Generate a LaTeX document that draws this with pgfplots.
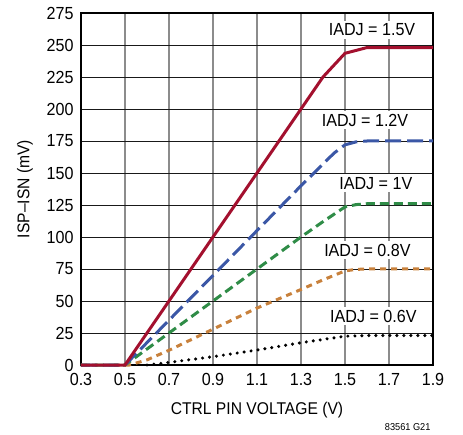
\documentclass[border=0pt]{standalone}
\usepackage{fontspec}
\setmainfont{Liberation Sans}[FakeStretch=0.92]
\usepackage{pgfplots}
\pgfplotsset{compat=1.18}
\definecolor{cred}{HTML}{A3102E}
\definecolor{cblue}{HTML}{3B57A6}
\definecolor{cgreen}{HTML}{2F8C47}
\definecolor{corange}{HTML}{C8813C}
\begin{document}
\begin{tikzpicture}
\useasboundingbox (-81bp,-70bp) rectangle (382bp,365bp);
\begin{axis}[
  at={(0,0)}, anchor=south west,
  width=352bp, height=352bp, scale only axis,
  xmin=0.3, xmax=1.9, ymin=0, ymax=275,
  xtick={0.3,0.5,0.7,0.9,1.1,1.3,1.5,1.7,1.9},
  ytick={0,25,50,75,100,125,150,175,200,225,250,275},
  xticklabels={0.3,0.5,0.7,0.9,1.1,1.3,1.5,1.7,1.9},
  major tick length=0pt,
  xmajorgrids, ymajorgrids,
  x grid style={color=black!45, line width=1.3bp},
  y grid style={color=black!90, line width=0.8bp},
  axis line style={line width=1.4bp},
  /pgf/number format/assume math mode=true,
  tick label style={font=\fontsize{17.5bp}{19bp}\selectfont},
  yticklabel style={xshift=-4bp},
  xticklabel style={yshift=-5bp},
  label style={font=\fontsize{17bp}{19bp}\selectfont},
  xlabel={CTRL PIN VOLTAGE (V)},
  ylabel={ISP–ISN (mV)},
  xlabel style={at={(axis description cs:0.5,-0.128)}, anchor=center},
  ylabel style={at={(axis description cs:-0.159,0.5)}, anchor=center},
  clip=false,
]
\addplot[black, line width=3.4bp, line cap=round, dash pattern=on 0bp off 7bp] coordinates {
(0.6,0)(0.7,2)(0.9,6.5)(1.1,11.7)(1.3,17.4)(1.5,22.5)(1.6,23)(1.9,23)};
\addplot[corange, line width=3bp, dash pattern=on 6bp off 5bp] coordinates {
(0.3,0)(0.52,0)(0.6,4)(0.7,11.5)(0.9,28)(1.1,44.5)(1.3,59)(1.4,66.5)(1.5,73.5)(1.55,74.7)(1.6,75)(1.9,75)};
\addplot[cgreen, line width=3bp, dash pattern=on 9bp off 5bp] coordinates {
(0.3,0)(0.5,0)(1.3,100)(1.4,112)(1.5,123.5)(1.55,125.3)(1.6,126)(1.9,126)};
\addplot[cblue, line width=3bp, dash pattern=on 16bp off 6bp] coordinates {
(0.3,0)(0.5,0)(1.3,140)(1.4,157)(1.45,165.5)(1.5,172)(1.55,174.3)(1.6,175)(1.9,175)};
\addplot[cred, line width=3bp] coordinates {
(0.3,0)(0.5,0)(1.4,225)(1.5,243.5)(1.6,248)(1.9,248)};
\tikzset{lab/.style={fill=white, inner xsep=8bp, inner ysep=3bp, font=\fontsize{17.5bp}{19bp}\selectfont}}
\node[lab] at (axis cs:1.623,261.7) {IADJ = 1.5V};
\node[lab] at (axis cs:1.591,191.4) {IADJ = 1.2V};
\node[lab] at (axis cs:1.64,142) {IADJ = 1V};
\node[lab] at (axis cs:1.602,89.8) {IADJ = 0.8V};
\node[lab] at (axis cs:1.629,38.3) {IADJ = 0.6V};
\node[font=\fontsize{10bp}{12bp}\selectfont] at (axis cs:1.785,-48.5) {83561 G21};
\end{axis}
\end{tikzpicture}
\end{document}
